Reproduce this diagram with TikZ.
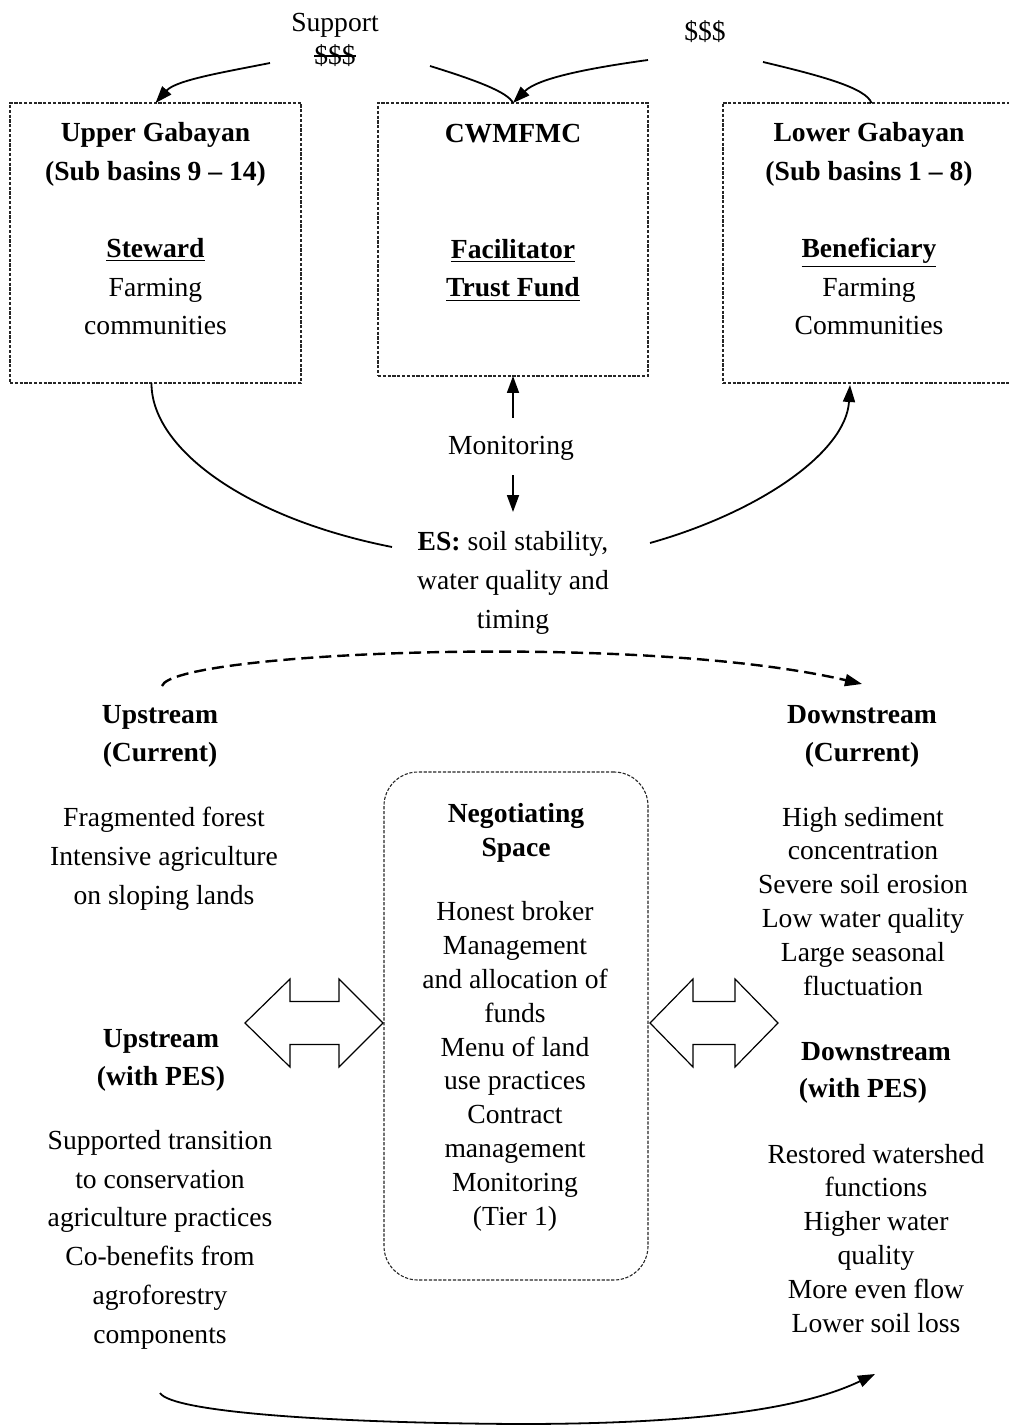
\documentclass[tikz,border=0pt]{standalone}
\usepackage{fontspec}
\setmainfont{Liberation Serif}
\usetikzlibrary{arrows.meta}

% text with a horizontal stroke through its middle
\newcommand{\strokethrough}[1]{{\setbox0\hbox{#1}\rlap{\copy0}\rule[0.3em]{\wd0}{0.07em}}}

\begin{document}
\begin{tikzpicture}[x=0.5pt,y=-0.5pt,
  every node/.style={inner sep=0pt, outer sep=0pt},
  txt/.style={font=\fontsize{13.8}{19.35}\selectfont, align=center, anchor=base},
  txtc/.style={font=\fontsize{13.8}{16.9}\selectfont, align=center, anchor=base},
  hd/.style={font=\fontsize{13.8}{18.6}\selectfont\bfseries, align=center, anchor=base},
  panel/.style={draw=black!85, line width=0.55pt, dash pattern=on 1.6pt off 0.8pt},
  space/.style={panel, rounded corners=17pt},
  link/.style={line width=0.9pt, -{Triangle[length=8.5pt,width=6pt]}},
  plainlink/.style={line width=0.9pt},
  flowlink/.style={line width=1.2pt, dash pattern=on 6pt off 3pt, -{Triangle[length=8.5pt,width=6pt]}},
  twoway/.style={draw=black, line width=0.6pt, fill=white}
]
\useasboundingbox (0,0) rectangle (1008,1427);
% multi-line nodes are anchored at the baseline of their last line

% ---- actor boxes ----
\node[panel, minimum width=145.5pt, minimum height=140pt] (ub) at (155.5,243) {};
\node[panel, minimum width=135pt, minimum height=136.5pt] (cb) at (513,239.5) {};
\node[panel, minimum width=144.5pt, minimum height=140pt] (lb) at (867.5,243) {};

\node[txt] (ubt) at (155.5,335) {\textbf{Upper Gabayan}\\\textbf{(Sub basins 9 – 14)}\\[19.35pt]\textbf{\underline{Steward}}\\Farming\\communities};
\node[txt] (cbt) at (513,297) {\textbf{CWMFMC}\\[38.7pt]\textbf{\underline{Facilitator}}\\\textbf{\underline{Trust Fund}}};
\node[txt] (lbt) at (869,335) {\textbf{Lower Gabayan}\\\textbf{(Sub basins 1 – 8)}\\[19.35pt]\textbf{\underline{Beneficiary}}\\Farming\\Communities};

% ---- payments ----
\node[txtc] (sup) at (335,65) {Support\\\strokethrough{\$\$\$}};
\node[txt] (pay) at (705,41) {\$\$\$};

\coordinate (s1) at (270,63);
\coordinate (s2) at (430,66);
\coordinate (s3) at (648,60);
\coordinate (s4) at (763,62);
\draw[link] (s1) .. controls (225,72) and (176,80) .. (ub.north);
\draw[plainlink] (s2) .. controls (475,80) and (508,92) .. (cb.north);
\draw[link] (s3) .. controls (590,68) and (538,78) .. (cb.north);
\draw[plainlink] (s4) .. controls (822,76) and (866,88) .. ([xshift=2pt]lb.north);

% ---- monitoring ----
\node[txt] (mon) at (511,454) {Monitoring};
\coordinate (m1) at (513,418);
\coordinate (m2) at (513,475);
\coordinate (m3) at (513,512);
\draw[link] (m1) -- (cb.south);
\draw[link] (m2) -- (m3);

% ---- ecosystem services ----
\node[txt] (es) at (513,628) {\textbf{ES:} soil stability,\\water quality and\\timing};
\coordinate (e1) at (392,547);
\coordinate (e2) at (650,543);
\coordinate (e3) at (850,385);
\draw[plainlink] ([xshift=-2pt]ub.south) .. controls (151,448) and (245,518) .. (e1);
\draw[link] (e2) .. controls (760,512) and (846,452) .. (e3);

% ---- upstream / downstream flow ----
\coordinate (f1) at (162,686);
\coordinate (f2) at (862,684);
\draw[flowlink] (f1) .. controls (172,652) and (640,632) .. (f2);

\node[hd] (upc) at (160,761) {Upstream\\(Current)};
\node[hd] (dnc) at (862,761) {Downstream\\(Current)};

\node[txt] (upct) at (164,904) {Fragmented forest\\Intensive agriculture\\on sloping lands};
\node[txtc] (dnct) at (863,995) {High sediment\\concentration\\Severe soil erosion\\Low water quality\\Large seasonal\\fluctuation};

% ---- negotiating space ----
\node[space, minimum width=132pt, minimum height=254pt] (neg) at (516,1026) {};
\node[font=\fontsize{13.8}{16.9}\selectfont\bfseries, align=center, anchor=base] (negt) at (516,856) {Negotiating\\Space};
\node[txtc] (negl) at (515,1225) {Honest broker\\Management\\and allocation of\\funds\\Menu of land\\use practices\\Contract\\management\\Monitoring\\(Tier 1)};

% ---- two-way exchange arrows ----
\draw[twoway] (245,1023) -- (290,979) -- (290,1001.5) -- (339,1001.5) -- (339,979) -- (383,1023)
  -- (339,1067) -- (339,1044.5) -- (290,1044.5) -- (290,1067) -- cycle;
\draw[twoway] (650,1023) -- (693,979) -- (693,1001.5) -- (735,1001.5) -- (735,979) -- (778,1023)
  -- (735,1067) -- (735,1044.5) -- (693,1044.5) -- (693,1067) -- cycle;

% ---- with PES ----
\node[hd] (upp) at (161,1085) {Upstream\\(with PES)};
\node[font=\fontsize{13.8}{18.5}\selectfont\bfseries, anchor=base] (dnp1) at (876,1060) {Downstream};
\node[font=\fontsize{13.8}{18.5}\selectfont\bfseries, anchor=base] (dnp2) at (863,1097) {(with PES)};

\node[txt] (uppt) at (160,1343) {Supported transition\\to conservation\\agriculture practices\\Co-benefits from\\agroforestry\\components};
\node[txtc] (dnpt) at (876,1332) {Restored watershed\\functions\\Higher water\\quality\\More even flow\\Lower soil loss};

\coordinate (b1) at (160,1393);
\coordinate (b2) at (519,1424);
\coordinate (b3) at (875,1374);
\draw[plainlink] (b1) .. controls (172,1412) and (330,1423) .. (b2);
\draw[link] (b2) .. controls (690,1424) and (800,1410) .. (b3);
\end{tikzpicture}
\end{document}
